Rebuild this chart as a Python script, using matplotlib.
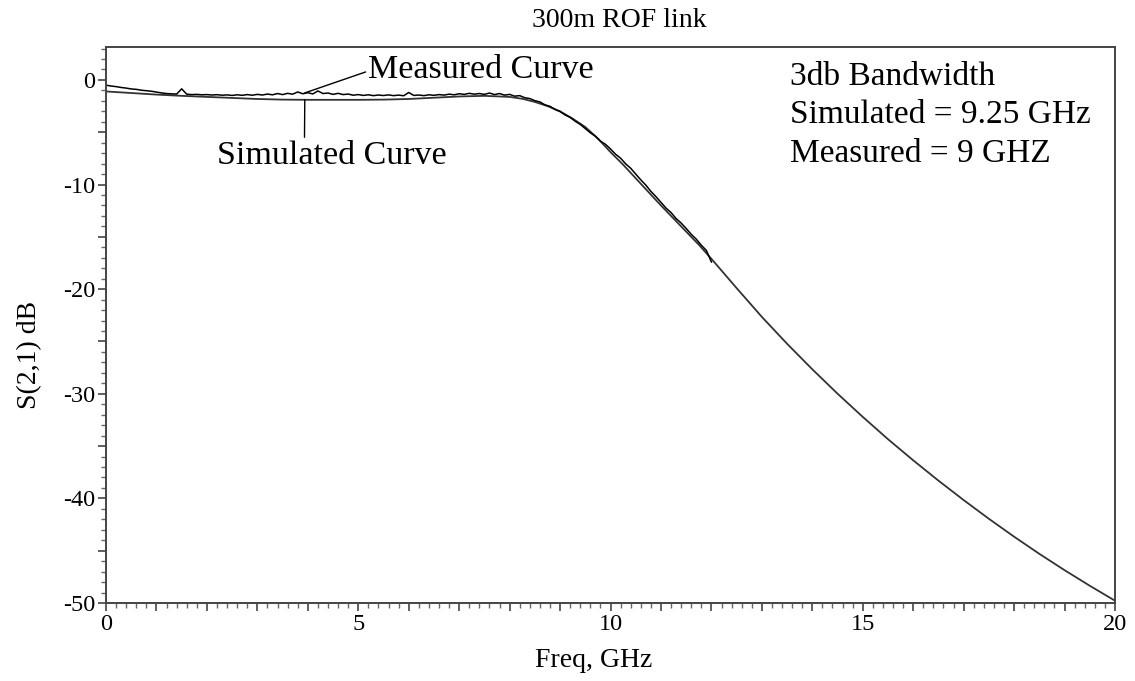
import numpy as np
import matplotlib.pyplot as plt
from matplotlib.ticker import MultipleLocator, FuncFormatter

plt.rcParams['font.family'] = ['Liberation Serif', 'DejaVu Serif']
plt.rcParams['axes.unicode_minus'] = False

# simulated S21 response of the 300 m link (GHz, dB)
sim_freq = [0, 0.5, 1, 1.5, 2, 2.5, 3, 3.5, 4, 4.5, 5, 5.5, 6, 6.5, 7, 7.5,
            8, 8.25, 8.5, 8.75, 9, 9.25, 9.5, 9.75, 10, 10.25, 10.5, 10.75,
            11, 11.25, 11.5, 11.75, 12, 12.25, 12.5, 13, 13.5, 14, 14.5, 15,
            15.5, 16, 16.5, 17, 17.5, 18, 18.5, 19, 19.5, 20]
sim_db = [-1.1, -1.25, -1.4, -1.52, -1.62, -1.72, -1.82, -1.88, -1.9, -1.9,
          -1.9, -1.88, -1.82, -1.7, -1.58, -1.52,
          -1.62, -1.8, -2.1, -2.5, -3.0, -3.7, -4.5, -5.6, -6.9, -8.1, -9.4,
          -10.7, -12.0, -13.25, -14.5, -15.75, -17.1, -18.5, -19.9, -22.65,
          -25.22, -27.66, -29.99, -32.21, -34.34, -36.36, -38.3, -40.16,
          -41.95, -43.66, -45.3, -46.86, -48.35, -49.78]

# measured sweep, 0 to 12 GHz in 0.1 GHz steps
meas_freq = np.round(np.arange(0, 12.05, 0.1), 1)
meas_db = [
    -0.50, -0.58, -0.64, -0.72, -0.78, -0.86, -0.90, -0.98, -1.03, -1.08,
    -1.16, -1.24, -1.30, -1.33, -1.35, -0.85, -1.36, -1.40, -1.38, -1.42,
    -1.40, -1.44, -1.41, -1.46, -1.43, -1.48, -1.42, -1.47, -1.40, -1.46,
    -1.38, -1.44, -1.35, -1.42, -1.30, -1.40, -1.28, -1.36, -1.15, -1.32,
    -1.22, -1.34, -1.05, -1.30, -1.25, -1.38, -1.28, -1.40, -1.35, -1.46,
    -1.40, -1.48, -1.42, -1.50, -1.44, -1.49, -1.43, -1.50, -1.45, -1.51,
    -1.20, -1.48, -1.44, -1.50, -1.42, -1.47, -1.40, -1.45, -1.36, -1.42,
    -1.32, -1.38, -1.28, -1.36, -1.30, -1.38, -1.25, -1.40, -1.30, -1.45,
    -1.38, -1.55, -1.50, -1.70, -1.78, -1.98, -2.10, -2.38, -2.52, -2.82,
    -3.02, -3.35, -3.58, -3.95, -4.25, -4.65, -5.05, -5.38, -5.85, -6.15,
    -6.60, -7.10, -7.48, -8.02, -8.44, -9.00, -9.55, -10.05, -10.65, -11.15,
    -11.70, -12.25, -12.68, -13.25, -13.68, -14.20, -14.75, -15.22, -15.80, -16.30,
    -17.40]

bw_lines = ['3db Bandwidth', 'Simulated = 9.25 GHz', 'Measured = 9 GHZ']

fig = plt.figure(figsize=(11.35, 6.81), dpi=100)
ax = fig.add_axes([0.0934, 0.1145, 0.8890, 0.8165])

ax.plot(sim_freq, sim_db, color='#333333', lw=1.3)
ax.plot(meas_freq, meas_db, color='black', lw=1.1)

ax.set_xlim(0, 20)
ax.set_ylim(-50, 3.15)

ax.xaxis.set_major_locator(MultipleLocator(1))
ax.xaxis.set_minor_locator(MultipleLocator(0.2))
ax.yaxis.set_major_locator(MultipleLocator(5))
ax.yaxis.set_minor_locator(MultipleLocator(1))
ax.xaxis.set_major_formatter(FuncFormatter(lambda v, p: f'{v:.0f}' if round(v) % 5 == 0 else ''))
ax.yaxis.set_major_formatter(FuncFormatter(lambda v, p: f'{v:.0f}' if round(v) % 10 == 0 else ''))

ax.tick_params(which='major', length=6, width=1.2, color='#444444', labelsize=17.5, pad=2)
ax.tick_params(which='minor', length=3.6, width=1.0, color='#666666')
ax.tick_params(top=False, right=False)
for side in ['left', 'bottom', 'top', 'right']:
    ax.spines[side].set_color('#444444')
    ax.spines[side].set_linewidth(1.4)

ax.set_xlabel('Freq, GHz', fontsize=20)
ax.set_ylabel('S(2,1) dB', fontsize=20)
ax.xaxis.set_label_coords(0.483, -0.081)
ax.yaxis.set_label_coords(-0.0634, 0.446)
fig.text(0.546, 0.97, '300m ROF link', fontsize=20, ha='center', va='center')

ax.annotate('Measured Curve', xy=(3.94, -1.24), xytext=(5.2, 1.0),
            fontsize=24.5, ha='left', va='center',
            arrowprops=dict(arrowstyle='-', color='black', lw=1.0,
                            shrinkA=0, shrinkB=0, relpos=(0, 0.45)))
ax.annotate('Simulated Curve', xy=(3.94, -1.9), xytext=(4.48, -7.2),
            fontsize=24.5, ha='center', va='center',
            arrowprops=dict(arrowstyle='-', color='black', lw=1.0,
                            shrinkA=0, shrinkB=0, relpos=(0.38, 1.0)))

for line, yb in zip(bw_lines, [0.9317, 0.8633, 0.7932]):
    ax.text(0.678, yb, line, transform=ax.transAxes, fontsize=24,
            ha='left', va='baseline')

fig.savefig('out.png', dpi=100)
